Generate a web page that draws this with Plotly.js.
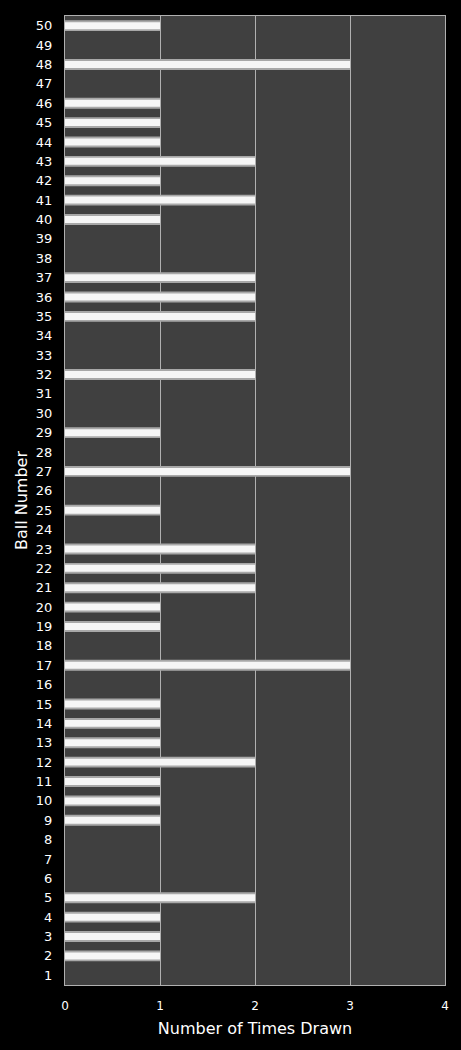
<!DOCTYPE html>
<html>
<head>
<meta charset="utf-8">
<script src="https://cdn.plot.ly/plotly-3.0.1.min.js"></script>
<style>html,body{margin:0;padding:0;background:#000;}#chart{width:461px;height:1050px;}</style>
</head>
<body>
<div id="chart"></div>
<script>
const balls = Array.from({length: 50}, (_, i) => String(i + 1));
const timesDrawn = [0,1,1,1,2,0,0,0,1,1, 1,2,1,1,1,0,3,0,1,1, 2,2,2,0,1,0,3,0,1,0, 0,2,0,0,2,2,2,0,0,1, 2,1,2,1,1,1,0,3,0,1];
const xTicks = [0,1,2,3,4];

const outer = {
  type: 'bar', orientation: 'h', y: balls, x: timesDrawn,
  width: 0.56, marker: {color: '#a8a8a8', line: {width: 0}}, hoverinfo: 'skip'
};
const inner = {
  type: 'bar', orientation: 'h', y: balls, x: timesDrawn,
  width: 0.36, marker: {color: '#f6f6f6', line: {width: 0}}
};
const layout = {
  width: 461, height: 1050,
  paper_bgcolor: '#000', plot_bgcolor: '#404040',
  margin: {l: 65, r: 16, t: 16, b: 65},
  barmode: 'overlay', showlegend: false,
  font: {family: 'DejaVu Sans, Verdana, sans-serif', color: '#fff', size: 12},
  xaxis: {
    range: [0, 4], tickvals: xTicks, ticktext: xTicks.map(String),
    showgrid: true, gridcolor: '#b0b0b0', gridwidth: 1, zeroline: false,
    showline: true, linecolor: '#b0b0b0', mirror: true, ticks: '',
    tickfont: {size: 12, color: '#fff'}, ticklabelstandoff: 10,
    title: {text: 'Number of Times Drawn', font: {size: 16, color: '#fff'}, standoff: 10}
  },
  yaxis: {
    type: 'category', categoryorder: 'array', categoryarray: balls,
    range: [-0.5, 49.5], showgrid: false, zeroline: false,
    showline: true, linecolor: '#b0b0b0', mirror: true, ticks: '',
    tickfont: {size: 13, color: '#fff'}, ticklabelstandoff: 9,
    title: {text: 'Ball Number', font: {size: 16, color: '#fff'}, standoff: 4}
  }
};
Plotly.newPlot('chart', [outer, inner], layout, {displayModeBar: false, staticPlot: true});
</script>
</body>
</html>
